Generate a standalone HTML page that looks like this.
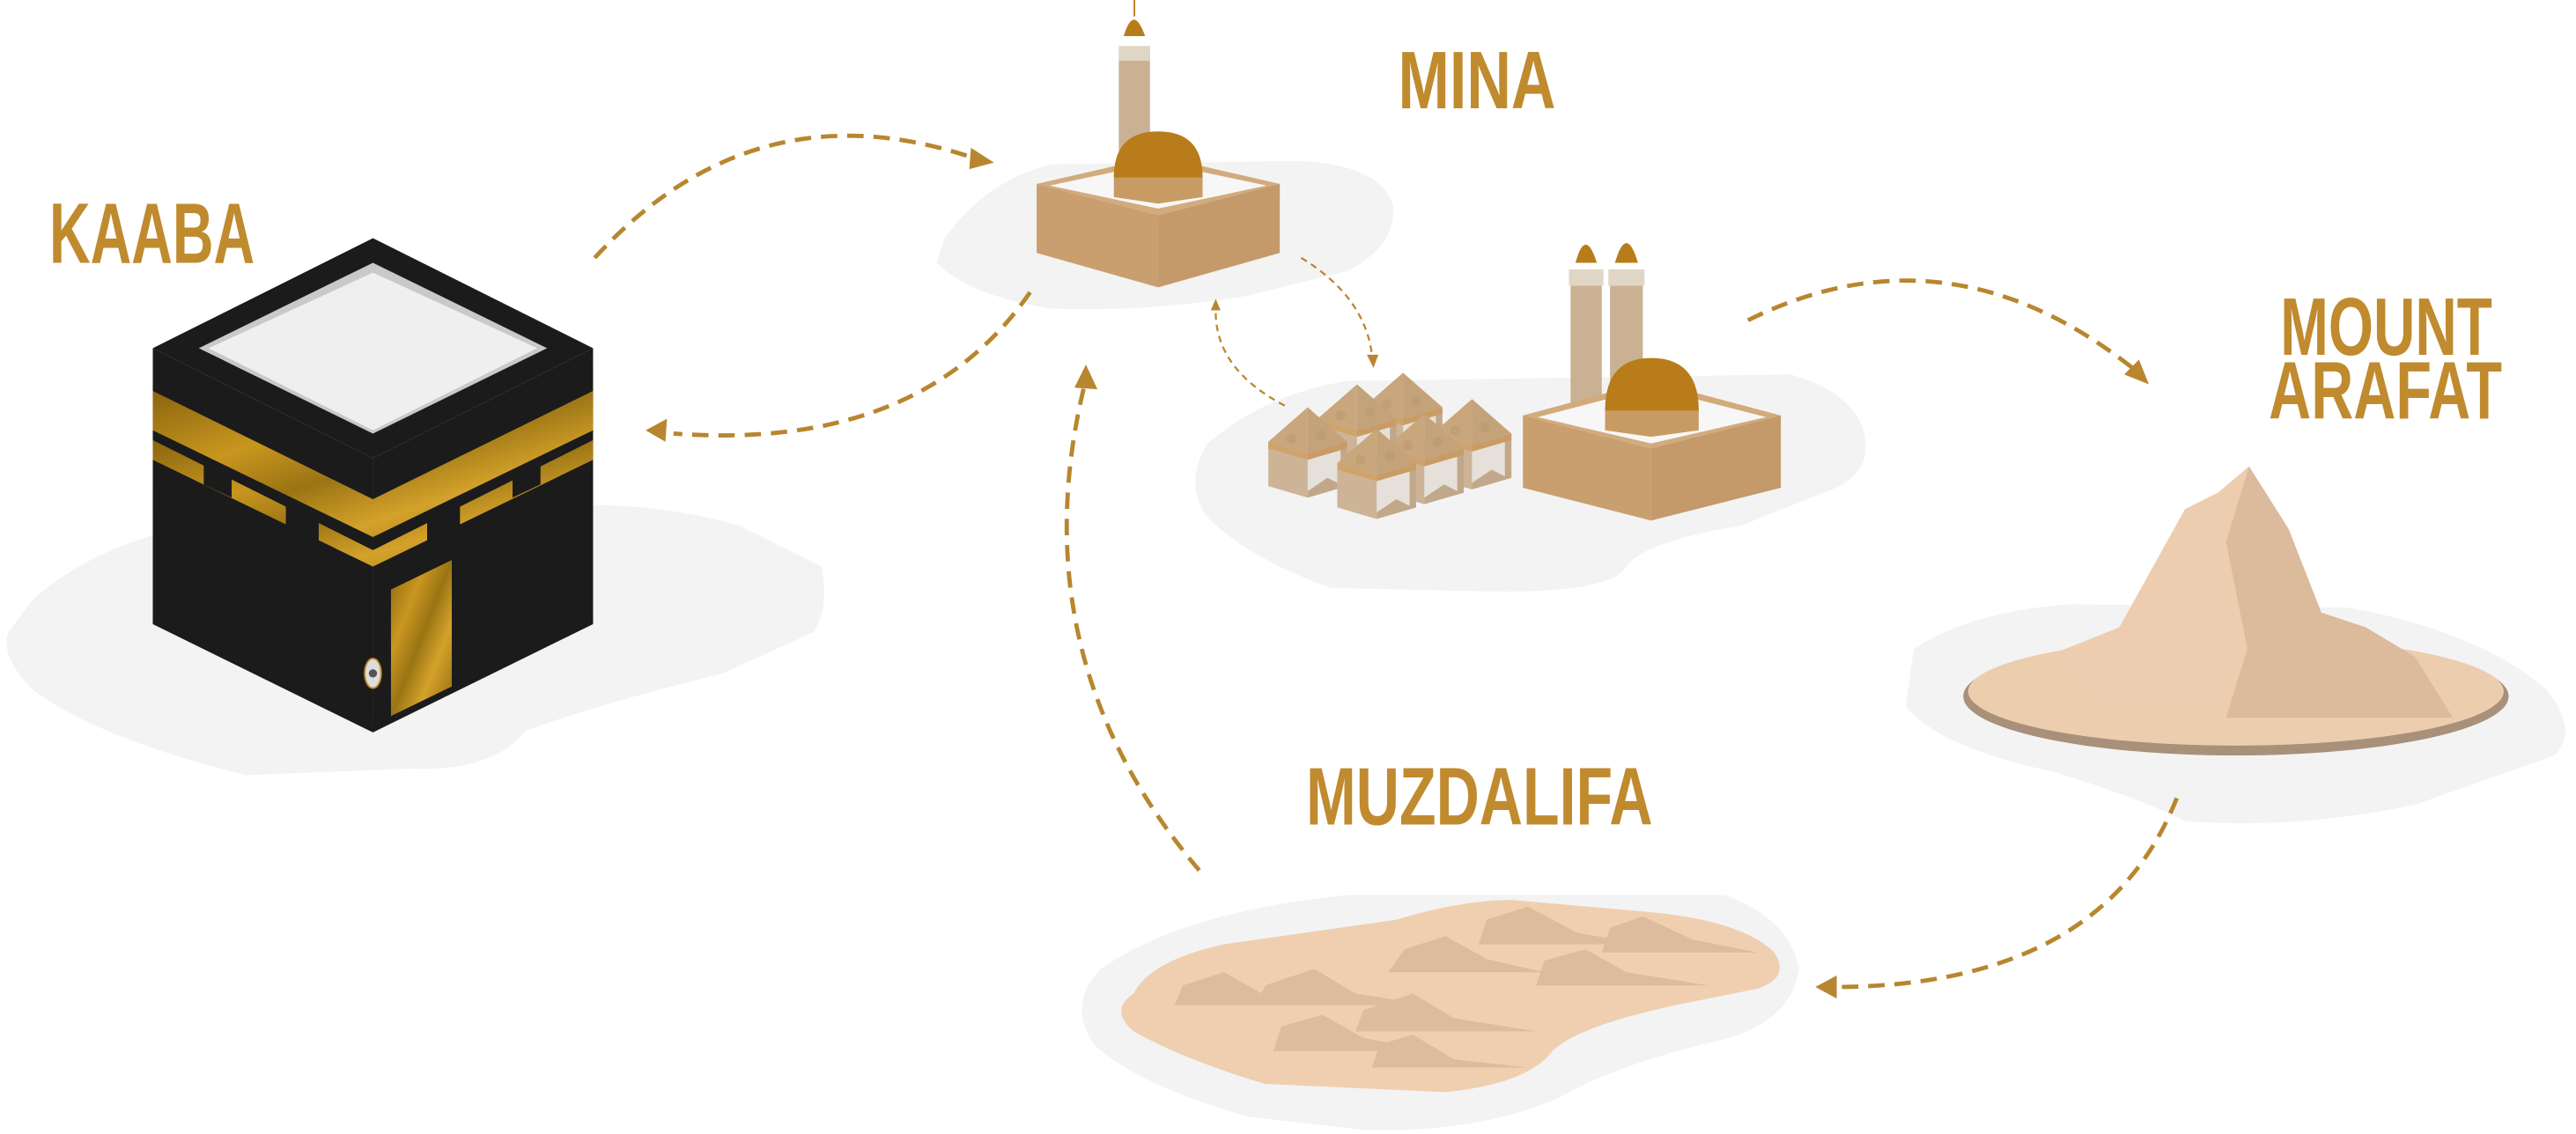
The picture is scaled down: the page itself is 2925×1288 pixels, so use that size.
<!DOCTYPE html>
<html><head><meta charset="utf-8"><style>
html,body{margin:0;padding:0;background:#fff;}
svg{display:block;}
text{font-family:"Liberation Sans",sans-serif;font-weight:bold;fill:#c08a2e;}
</style></head><body>
<svg width="2925" height="1288" viewBox="0 0 1568 690.5" preserveAspectRatio="none" xmlns="http://www.w3.org/2000/svg">
<defs>
<linearGradient id="gold" x1="0" y1="0" x2="1" y2="1">
<stop offset="0" stop-color="#8a6510"/><stop offset="0.3" stop-color="#c9961f"/><stop offset="0.5" stop-color="#9a7414"/><stop offset="0.7" stop-color="#d4a22a"/><stop offset="1" stop-color="#8f6a12"/>
</linearGradient>
<g id="tent">
<polygon points="-24,-7 0,0 0,-27 -24,-34" fill="#cdb497"/>
<polygon points="0,0 24,-7 24,-34 0,-27" fill="#c2a88a"/>
<polygon points="0,-4 12,-12 20,-8 20,-34 0,-27" fill="#e6e0da"/>
<polygon points="-24,-34 0,-27 0,-23 -24,-30" fill="#cfa46c"/>
<polygon points="24,-34 0,-27 0,-23 24,-30" fill="#c89c64"/>
<polygon points="0,-55 -24,-34 0,-27" fill="#c9a67c"/>
<polygon points="0,-55 24,-34 0,-27" fill="#c4a27a"/>
<circle cx="-10" cy="-36" r="3" fill="#b89570" opacity=".5"/><circle cx="8" cy="-38" r="3" fill="#b89570" opacity=".5"/>
</g>
</defs>

<!-- shadows -->
<path d="M20,365 Q60,330 120,320 L300,312 Q380,300 450,320 L500,345 Q505,370 495,385 L440,410 Q360,430 320,445 Q300,470 250,468 L150,472 Q60,450 20,420 Q0,400 5,385 Z" fill="#f3f3f3"/>
<path d="M575,145 Q600,110 640,100 L790,98 Q840,100 848,125 Q850,150 820,165 L760,180 Q700,190 640,188 Q590,180 570,160 Z" fill="#f3f3f3"/>
<path d="M735,270 Q770,240 820,232 L1090,228 Q1130,240 1135,265 Q1140,290 1110,300 L1060,320 Q1000,330 990,345 Q980,362 900,360 L810,358 Q760,340 735,315 Q720,295 735,270 Z" fill="#f3f3f3"/>
<path d="M1165,395 Q1200,372 1260,368 L1430,370 Q1510,385 1550,420 Q1570,445 1555,460 L1470,490 Q1400,505 1330,500 Q1300,485 1250,470 Q1180,455 1160,430 Z" fill="#f3f3f3"/>
<path d="M670,590 Q720,555 820,545 L1050,545 Q1090,560 1095,590 Q1090,625 1040,635 Q980,650 950,668 Q900,690 830,688 L760,680 Q690,660 665,635 Q650,610 670,590 Z" fill="#f3f3f3"/>

<!-- Kaaba -->
<polygon points="93,212 227,145 361,212 227,279" fill="#1b1b1b"/>
<polygon points="93,212 227,279 227,446 93,380" fill="#1b1b1b"/>
<polygon points="227,279 361,212 361,380 227,446" fill="#1b1b1b"/>
<polygon points="121,212 227,160 333,212 227,264" fill="#c9c9c9"/>
<polygon points="127,212 227,166 327,212 227,262" fill="#efefef"/>
<polygon points="93,238 227,304 361,238 361,262 227,327 93,262" fill="url(#gold)"/>
<polygon points="93,268 227,335 361,268 361,280 227,345 93,280" fill="url(#gold)"/>
<polygon points="124,283 141,291 141,303 124,295" fill="#1b1b1b"/>
<polygon points="174,308 194,318 194,330 174,320" fill="#1b1b1b"/>
<polygon points="260,318 280,308 280,320 260,330" fill="#1b1b1b"/>
<polygon points="312,292 329,283 329,295 312,303" fill="#1b1b1b"/>
<polygon points="93,283 124,298 124,330 93,315" fill="#1b1b1b"/>
<polygon points="238,359 275,341 275,418 238,436" fill="url(#gold)"/>
<ellipse cx="227" cy="410" rx="5" ry="9" fill="#ddd" stroke="#c08a2e" stroke-width="1"/>
<circle cx="227" cy="410" r="2.5" fill="#555"/>

<!-- Mina mosque 1 -->
<rect x="681" y="30" width="19" height="80" fill="#cbb193"/>
<rect x="681" y="28" width="19" height="9" fill="#e0d6c6"/>
<path d="M684,22 Q690,2 697,22 Z" fill="#b87c1a"/>
<line x1="690.5" y1="0" x2="690.5" y2="10" stroke="#b87c1a"/>
<polygon points="631,112 705,95 779,112 705,131" fill="#d2ab7d"/>
<polygon points="639,113 705,99 771,113 705,127" fill="#f7f7f7"/>
<polygon points="631,112 705,131 705,175 631,154" fill="#c99f6f"/>
<polygon points="705,131 779,112 779,154 705,175" fill="#c49a6a"/>
<polygon points="678,106 732,106 732,120 705,124 678,120" fill="#c99b64"/>
<path d="M678,108 Q678,80 705,80 Q732,80 732,108 Z" fill="#b87c1a"/>

<!-- Mina mosque 2 -->
<rect x="956" y="165" width="19" height="82" fill="#cbb193"/>
<rect x="980" y="165" width="20" height="82" fill="#cbb193"/>
<rect x="955" y="164" width="21" height="10" fill="#e0d6c6"/>
<rect x="979" y="164" width="22" height="10" fill="#e0d6c6"/>
<path d="M959,160 Q965,138 972,160 Z" fill="#b87c1a"/>
<path d="M983,160 Q990,136 997,160 Z" fill="#b87c1a"/>
<polygon points="927,253 1005,232 1084,253 1005,273" fill="#d2ab7d"/>
<polygon points="936,254 1005,236 1075,254 1005,270" fill="#f7f7f7"/>
<polygon points="927,253 1005,273 1005,317 927,297" fill="#c99f6f"/>
<polygon points="1005,273 1084,253 1084,297 1005,317" fill="#c49a6a"/>
<polygon points="977,248 1034,248 1034,262 1005,266 977,262" fill="#c99b64"/>
<path d="M977,250 Q977,218 1005,218 Q1034,218 1034,250 Z" fill="#b87c1a"/>

<!-- tents -->
<use href="#tent" x="854" y="282"/>
<use href="#tent" x="826" y="289"/>
<use href="#tent" x="896" y="298"/>
<use href="#tent" x="796" y="303"/>
<use href="#tent" x="867" y="307"/>
<use href="#tent" x="838" y="316"/>

<!-- Arafat -->
<ellipse cx="1361" cy="424" rx="166" ry="36" fill="#a8907a"/>
<ellipse cx="1361" cy="421" rx="163" ry="33" fill="#eccdae"/>
<polygon points="1250,398 1290,382 1330,310 1350,300 1369,284 1393,322 1413,373 1440,382 1470,400 1493,437 1360,437 1290,435 1260,415" fill="#edcdaf"/>
<polygon points="1369,284 1393,322 1413,373 1440,382 1470,400 1493,437 1355,437 1368,395 1355,330" fill="#dcba9c"/>

<!-- Muzdalifa -->
<path d="M690,605 Q700,585 745,575 L850,560 Q890,548 920,548 L1000,555 Q1060,560 1080,580 Q1090,595 1070,602 L1020,612 Q960,625 945,640 Q930,660 880,665 L770,660 Q720,645 690,628 Q675,615 690,605 Z" fill="#efcfb0"/>
<g fill="#ddbb9c">
<path d="M855,578 L880,570 L905,584 L940,592 L845,592 Z"/>
<path d="M905,560 L930,552 L960,568 L1000,575 L900,575 Z"/>
<path d="M940,585 L965,578 L990,592 L1040,600 L935,600 Z"/>
<path d="M980,565 L1000,558 L1030,572 L1070,580 L975,580 Z"/>
<path d="M770,600 L800,590 L825,605 L870,612 L765,612 Z"/>
<path d="M830,615 L860,605 L885,620 L935,628 L825,628 Z"/>
<path d="M780,625 L805,618 L830,632 L870,640 L775,640 Z"/>
<path d="M720,600 L745,592 L770,606 L800,612 L715,612 Z"/>
<path d="M840,636 L860,630 L885,645 L930,650 L835,650 Z"/>
</g>

<!-- arrows -->
<g fill="none" stroke="#b8862e" stroke-width="2.6" stroke-dasharray="10,6">
<path d="M362,157 Q460,50 595,97"/>
<path d="M627,178 Q560,275 410,264"/>
<path d="M730,530 Q620,400 660,235"/>
<path d="M1064,195 Q1185,135 1298,224"/>
<path d="M1325,486 Q1280,600 1118,601"/>
</g>
<g fill="none" stroke="#b8862e" stroke-width="1.2" stroke-dasharray="4,3">
<path d="M782,247 Q740,225 740,190"/>
<path d="M792,157 Q830,180 835,215"/>
</g>
<g fill="#b8862e">
<polygon points="605,99 591,90 590,103"/>
<polygon points="393,262 406,255 405,269"/>
<polygon points="661,222 654,236 668,237"/>
<polygon points="1308,234 1293,228 1302,219"/>
<polygon points="1105,601 1118,594 1118,608"/>
<polygon points="740,182 737,189 743,189"/>
<polygon points="836,224 832,216 839,216"/>
</g>

<!-- labels -->
<text x="30" y="160" font-size="52" textLength="125" lengthAdjust="spacingAndGlyphs">KAABA</text>
<text x="851" y="66" font-size="50" textLength="96" lengthAdjust="spacingAndGlyphs">MINA</text>
<text x="1388" y="216" font-size="50" textLength="129" lengthAdjust="spacingAndGlyphs">MOUNT</text>
<text x="1381" y="255" font-size="50" textLength="142" lengthAdjust="spacingAndGlyphs">ARAFAT</text>
<text x="795" y="502" font-size="50" textLength="211" lengthAdjust="spacingAndGlyphs">MUZDALIFA</text>
</svg>
</body></html>
